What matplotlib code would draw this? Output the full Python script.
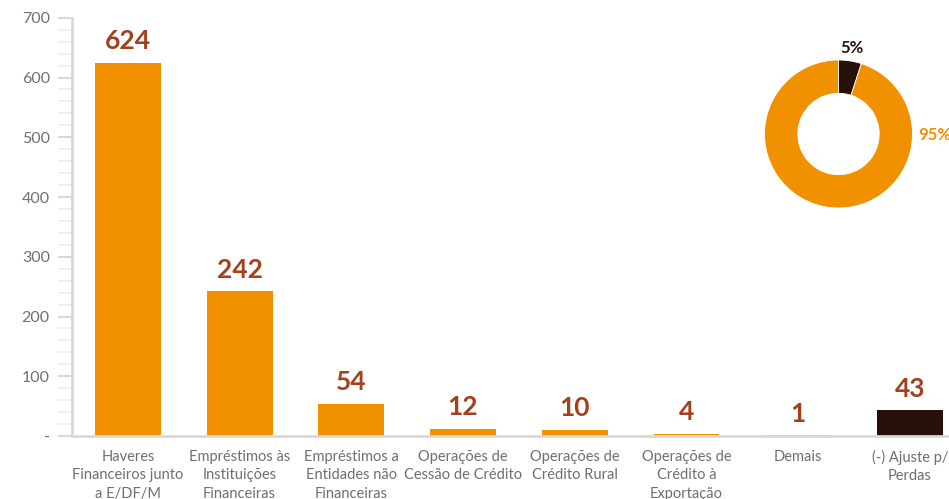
import matplotlib

matplotlib.use("Agg")
import matplotlib.pyplot as plt
from matplotlib.ticker import MultipleLocator

# data
categories = [
    "Haveres\nFinanceiros junto\na E/DF/M",
    "Empréstimos às\nInstituições\nFinanceiras",
    "Empréstimos a\nEntidades não\nFinanceiras",
    "Operações de\nCessão de Crédito",
    "Operações de\nCrédito Rural",
    "Operações de\nCrédito à\nExportação",
    "Demais",
    "(-) Ajuste p/\nPerdas",
]
values = [624, 242, 54, 12, 10, 4, 1, 43]
yticks = [0, 100, 200, 300, 400, 500, 600, 700]
ytick_labels = ["-", "100", "200", "300", "400", "500", "600", "700"]
donut_values = [5, 95]
donut_labels = ["5%", "95%"]

ORANGE = "#F29100"
DARK = "#26110B"
RUST = "#A3401D"
GRAY = "#6f6f6f"
LIGHT = "#d9d9d9"

plt.rcParams["font.family"] = ["Lato", "DejaVu Sans"]

fig = plt.figure(figsize=(9.49, 4.99), dpi=100)
ax = fig.add_axes([0.0759, 0.1263, 0.9241, 0.838])

colors = [ORANGE] * (len(values) - 1) + [DARK]
x = range(len(values))
bars = ax.bar(x, values, width=0.59, color=colors)
for rect, v in zip(bars, values):
    ax.annotate(f"{v}", (rect.get_x() + rect.get_width() / 2, rect.get_height()),
                xytext=(0, 7), textcoords="offset points",
                ha="center", va="bottom", fontsize=19, fontweight="bold", color=RUST)

ax.set_xlim(-0.5, 7.35)
ax.set_ylim(0, 700)
ax.set_xticks(list(x))
ax.set_xticklabels(categories, fontsize=10.5, color=GRAY, linespacing=1.4)
ax.tick_params(axis="x", length=0, pad=10)
ax.set_yticks(yticks)
ax.set_yticklabels(ytick_labels, fontsize=11.5, color=GRAY)
ax.yaxis.set_minor_locator(MultipleLocator(20))
ax.tick_params(axis="y", which="major", length=10, width=1.5, color=LIGHT, pad=6)
ax.tick_params(axis="y", which="minor", length=10, width=1.2, color="#ececec")

for s in ("top", "right"):
    ax.spines[s].set_visible(False)
for s in ("left", "bottom"):
    ax.spines[s].set_color(LIGHT)
    ax.spines[s].set_linewidth(2)

# donut inset
dax = fig.add_axes([(838.5 - 74) / 949, 1 - (134 + 74) / 499, 148 / 949, 148 / 499])
dax.pie(donut_values, colors=[DARK, ORANGE], startangle=90, counterclock=False,
        wedgeprops=dict(width=0.45, edgecolor="white", linewidth=0.6))
dax.set_xlim(-1, 1)
dax.set_ylim(-1, 1)
dax.set_aspect("equal")
fig.text(852 / 949, 1 - 48 / 499, donut_labels[0], ha="center", va="center",
         fontsize=12, fontweight="bold", color=DARK)
fig.text(918 / 949, 1 - 135 / 499, donut_labels[1], ha="left", va="center",
         fontsize=12, fontweight="bold", color=ORANGE)

fig.savefig("out.png", dpi=100)
